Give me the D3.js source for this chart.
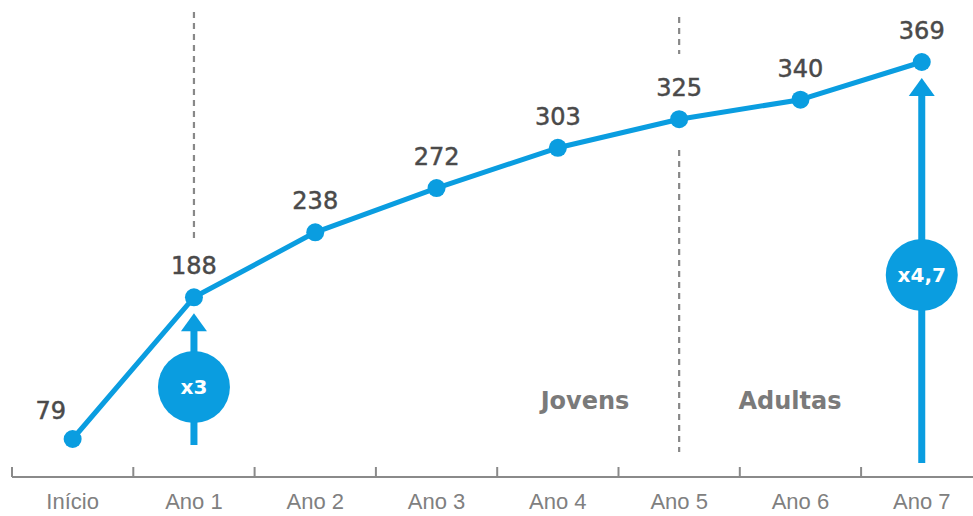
<!DOCTYPE html>
<html>
<head>
<meta charset="utf-8">
<script src="https://cdn.jsdelivr.net/npm/d3@7"></script>
<style>
  html, body { margin: 0; padding: 0; background: #fff; }
  svg { display: block; font-family: "DejaVu Sans", "Noto Sans", sans-serif; }
</style>
</head>
<body>
<svg id="chart" width="973" height="516"></svg>
<script>
// Growth over time, with phase markers
const categories = ["Início", "Ano 1", "Ano 2", "Ano 3", "Ano 4", "Ano 5", "Ano 6", "Ano 7"];
const values = [79, 188, 238, 272, 303, 325, 340, 369];
const phaseLabels = ["Jovens", "Adultas"];
const phaseCenters = [585, 790];
const multiplierCats = ["Ano 1", "Ano 7"];
const multiplierTexts = ["x3", "x4,7"];

const blue = "#0a9de0";
const svg = d3.select("#chart");

const x = d3.scaleBand().domain(categories).range([12, 982.4]).paddingInner(0).paddingOuter(0);
const cx = c => x(c) + x.bandwidth() / 2;
const y = d3.scaleLinear().domain([0, 369]).range([541.7, 62]);
const axisY = 477;

// dashed dividers at the start of each phase
const dgrp = svg.append("g").attr("stroke", "#888").attr("stroke-width", 2.2).attr("stroke-dasharray", "6,5");
dgrp.append("line").attr("x1", cx("Ano 1")).attr("x2", cx("Ano 1")).attr("y1", 12).attr("y2", 238);
dgrp.append("line").attr("x1", cx("Ano 5")).attr("x2", cx("Ano 5")).attr("y1", 17).attr("y2", 54);
dgrp.append("line").attr("x1", cx("Ano 5")).attr("x2", cx("Ano 5")).attr("y1", 150).attr("y2", 452);

// x axis
const axis = d3.axisBottom(x).tickSize(0).tickPadding(0);
const ag = svg.append("g").attr("transform", `translate(0,${axisY})`).call(axis);
ag.select(".domain").remove();
ag.selectAll("text").attr("fill", "#808080").attr("font-size", 22).attr("dy", null).attr("y", 32);
svg.append("line").attr("x1", 12).attr("x2", 973).attr("y1", axisY).attr("y2", axisY)
  .attr("stroke", "#8a8a8a").attr("stroke-width", 2);
svg.append("g").selectAll("line").data(categories).join("line")
  .attr("x1", d => x(d)).attr("x2", d => x(d)).attr("y1", axisY - 10).attr("y2", axisY)
  .attr("stroke", "#8a8a8a").attr("stroke-width", 2);

// phase labels
svg.append("g").selectAll("text").data(phaseLabels).join("text")
  .attr("x", (d, i) => phaseCenters[i])
  .attr("y", 409)
  .attr("text-anchor", "middle")
  .attr("font-size", 24).attr("font-weight", 700).attr("fill", "#7a7a7a")
  .text(d => d);

// multiplier arrows
multiplierCats.forEach((c, k) => {
  const i = categories.indexOf(c);
  const px = cx(c), py = y(values[i]);
  const tip = py + 16, base = tip + 18;
  const last = i === categories.length - 1;
  const bottom = last ? 463 : 445;
  const circleY = last ? 275 : 387;
  const g = svg.append("g");
  g.append("line").attr("x1", px).attr("x2", px).attr("y1", base - 1).attr("y2", bottom)
    .attr("stroke", blue).attr("stroke-width", 7);
  g.append("path").attr("d", `M${px},${tip}L${px + 13},${base}L${px - 13},${base}Z`).attr("fill", blue);
  g.append("circle").attr("cx", px).attr("cy", circleY).attr("r", 36).attr("fill", blue);
  g.append("text").attr("x", px).attr("y", circleY).attr("dy", "0.36em")
    .attr("text-anchor", "middle").attr("fill", "#fff").attr("font-size", 20).attr("font-weight", 700)
    .text(multiplierTexts[k]);
});

// line and points
const data = categories.map((c, i) => ({ c, v: values[i] }));
svg.append("path").datum(data)
  .attr("d", d3.line().x(d => cx(d.c)).y(d => y(d.v)))
  .attr("fill", "none").attr("stroke", blue).attr("stroke-width", 5).attr("stroke-linejoin", "round");
svg.append("g").selectAll("circle").data(data).join("circle")
  .attr("cx", d => cx(d.c)).attr("cy", d => y(d.v)).attr("r", 9).attr("fill", blue);

// value labels
svg.append("g").selectAll("text").data(data).join("text")
  .attr("x", (d, i) => i === 0 ? cx(d.c) - 22 : cx(d.c))
  .attr("y", (d, i) => i === 0 ? y(d.v) - 20 : y(d.v) - 23)
  .attr("text-anchor", "middle")
  .attr("font-size", 24).attr("fill", "#4a4a4a")
  .attr("stroke", "#4a4a4a").attr("stroke-width", 0.5)
  .text(d => d.v);
</script>
</body>
</html>
